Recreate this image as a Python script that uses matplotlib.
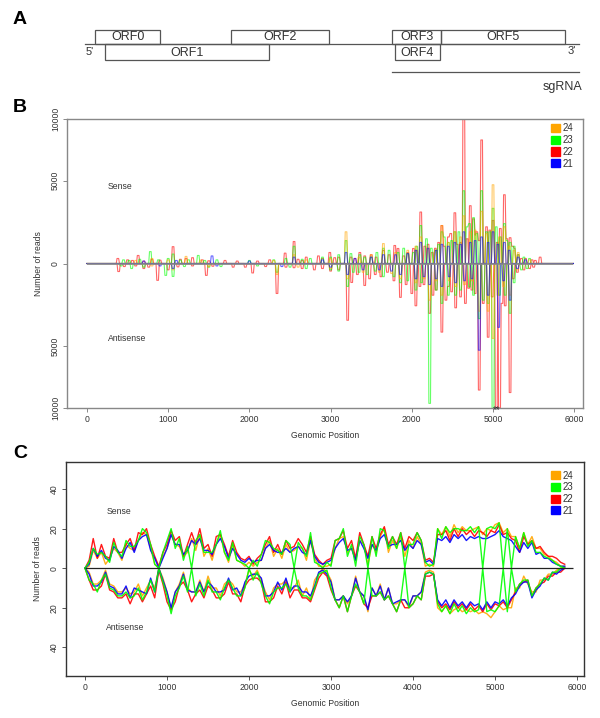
import numpy as np
import matplotlib
matplotlib.use("Agg")
import matplotlib.pyplot as plt
from matplotlib.patches import Rectangle, Patch
from matplotlib.ticker import FixedLocator
import matplotlib.transforms as mtransforms

plt.rcParams['font.family'] = ['Liberation Sans', 'DejaVu Sans']

# ---------------- Panel A: genome map ----------------
orf_names = ["ORF0", "ORF1", "ORF2", "ORF3", "ORF4", "ORF5"]
orf_starts = [100, 222, 1770, 3756, 3793, 4360]
orf_ends = [900, 2241, 2980, 4360, 4347, 5887]
orf_rows = ["top", "bottom", "top", "top", "bottom", "top"]
genome_start, genome_end = -20, 6060
sgrna_start, sgrna_end = 3756, 6060

# ---------------- Shared ----------------
read_lengths = ["24", "23", "22", "21"]
length_colors = ["#FFA500", "#00FF00", "#FF0000", "#0000FF"]

# ---------------- Panel B: siRNA reads per position (position, reads) ----------------
b_sense_24 = [(600,80),(800,150),(1000,100),(1215,230),(1400,90),(2300,80),(2553,300),(2700,100),(3000,150),
              (3190,1500),(3350,200),(3500,300),(3650,840),(3800,400),(3950,500),(4050,700),(4113,1200),(4200,600),
              (4290,500),(4368,1880),(4450,900),(4532,1500),(4600,1200),(4635,2500),(4720,1500),(4780,1600),
              (4864,2800),(4920,1400),(5004,4680),(5080,1200),(5135,1800),(5200,700),(5260,500),(5312,400),(5450,100)]
b_anti_24 = [(800,60),(1063,200),(1500,80),(2335,400),(2600,100),(3000,150),(3206,600),(3400,300),(3600,300),
             (3750,350),(3863,600),(4052,800),(4150,600),(4224,1800),(4300,700),(4368,1500),(4460,700),(4544,1000),
             (4650,900),(4740,700),(4828,2500),(4940,2500),(5000,4400),(5060,1500),(5130,1000),(5209,1500),(5300,200)]
b_sense_23 = [(450,100),(520,80),(650,120),(776,440),(880,100),(1000,150),(1063,330),(1150,90),(1250,100),
              (1370,270),(1450,80),(1600,100),(2000,80),(2300,100),(2450,150),(2553,700),(2650,120),(2750,150),
              (2900,200),(3000,200),(3100,300),(3186,1000),(3250,350),(3362,300),(3420,200),(3500,200),(3570,400),
              (3650,600),(3720,500),(3834,400),(3900,600),(3950,350),(4018,400),(4060,700),(4109,1880),(4183,1100),
              (4240,600),(4290,500),(4330,800),(4368,1500),(4400,1200),(4450,900),(4490,1000),(4532,1500),(4580,1500),
              (4635,4240),(4680,1800),(4709,2000),(4758,2380),(4800,1400),(4864,4240),(4920,1500),(4960,1500),
              (5000,3000),(5040,1800),(5086,1200),(5135,2000),(5170,1000),(5209,900),(5260,700),(5312,300),
              (5380,200),(5450,150)]
b_anti_23 = [(420,60),(550,150),(700,100),(969,440),(1063,490),(1200,80),(1500,100),(1650,80),(2100,60),
             (2340,300),(2500,100),(2700,150),(3000,200),(3100,250),(3206,1000),(3280,300),(3350,300),(3450,400),
             (3550,250),(3650,500),(3780,500),(3863,800),(3950,700),(4052,1200),(4120,800),(4224,9600),(4300,1200),
             (4368,2000),(4450,1500),(4544,1500),(4600,1200),(4709,1030),(4760,1500),(4828,3000),(4880,1800),
             (4943,2000),(5004,12000),(5080,1500),(5148,1500),(5209,2640),(5260,800),(5350,200),(5420,150)]
b_sense_22 = [(380,150),(500,100),(560,80),(630,270),(700,60),(800,120),(900,90),(1063,680),(1150,120),
              (1215,150),(1302,180),(1420,100),(1500,70),(1700,80),(1850,60),(2100,60),(2250,100),(2438,370),
              (2553,950),(2600,120),(2650,80),(2700,200),(2850,250),(2900,150),(2993,400),(3050,180),(3100,200),
              (3250,200),(3300,150),(3362,400),(3420,250),(3500,300),(3560,200),(3650,500),(3720,300),(3790,740),
              (3834,590),(3900,250),(3950,400),(4018,590),(4060,500),(4113,2750),(4160,700),(4200,800),(4250,400),
              (4290,600),(4330,900),(4368,1880),(4400,700),(4450,1200),(4480,1400),(4532,2700),(4560,800),
              (4600,900),(4635,12000),(4680,1100),(4717,3180),(4758,2300),(4780,1300),(4800,1500),(4830,1000),
              (4864,8220),(4920,1800),(4960,1600),(5000,2200),(5050,900),(5086,1700),(5135,3950),(5170,1100),
              (5209,1160),(5240,700),(5260,600),(5312,300),(5350,150),(5400,150),(5480,100),(5520,80),(5578,200)]
b_anti_22 = [(386,270),(460,80),(600,60),(700,150),(760,100),(870,680),(1000,200),(1120,90),(1300,60),
             (1474,440),(1550,70),(1800,100),(1946,100),(2036,330),(2200,80),(2335,1400),(2450,100),(2550,120),
             (2650,150),(2800,200),(2900,150),(3000,250),(3100,200),(3206,3110),(3260,790),(3330,400),(3424,950),
             (3480,600),(3550,400),(3620,500),(3700,300),(3780,700),(3863,1630),(3930,900),(3998,1400),(4052,2150),
             (4100,1000),(4150,900),(4224,2640),(4260,1500),(4300,1200),(4368,3940),(4420,1800),(4450,1000),
             (4490,1300),(4544,2280),(4600,1600),(4655,2000),(4700,1100),(4740,1200),(4780,1400),(4828,8470),
             (4880,2000),(4943,4310),(4990,1600),(5037,12000),(5078,12000),(5110,2000),(5148,2150),(5209,8680),
             (5250,600),(5300,300),(5380,200),(5450,150),(5500,100)]
b_sense_21 = [(700,60),(1100,80),(1544,250),(2000,60),(2553,200),(2900,100),(3186,400),(3300,150),(3500,200),
              (3650,300),(3800,300),(3950,350),(4050,500),(4113,900),(4200,600),(4300,500),(4368,800),(4450,700),
              (4532,900),(4600,800),(4635,1500),(4720,900),(4780,1000),(4864,1200),(4940,900),(5004,1500),
              (5060,800),(5135,900),(5200,500),(5312,200),(5400,100)]
b_anti_21 = [(900,60),(1063,150),(1600,60),(2400,80),(3000,100),(3206,400),(3400,200),(3600,200),(3750,250),
             (3863,400),(4052,600),(4150,500),(4224,900),(4300,600),(4368,1000),(4460,500),(4544,800),(4650,700),
             (4740,600),(4828,5280),(4940,1500),(5066,3600),(5130,700),(5209,1800),(5300,150)]
b_track_end = 5990
b_xticklabels = ["0", "1000", "2000", "3000", "2000", "5000", "6000"]
b_xticks = [0, 1000, 2000, 3000, 4000, 5000, 6000]
b_yticks = [-10000, -5000, 0, 5000, 10000]
b_yticklabels = ["10000", "5000", "0", "5000", "10000"]

# ---------------- Panel C: normalised coverage, 50-nt bins ----------------
c_bin = 50
c_sense_24 = [0,1,9,5,8,2,5,10,8,4, 12,10,9,14,18,17,10,2,0,6, 10,17,12,11,6,8,15,9,17,6,
              10,4,12,17,8,3,12,4,3,1, 3,1,3,4,10,14,6,10,5,12, 8,9,11,10,4,14,5,1,1,1,
              2,10,15,16,8,10,4,14,12,2, 12,8,16,20,8,14,10,16,6,14, 10,16,12,1,2,1,20,17,21,16,
              22,18,21,19,19,20,21,17,20,19, 22,23,18,20,16,16,10,18,12,16, 10,10,7,6,4,3,1,1]
c_sense_23 = [0,3,10,7,8,6,3,13,8,6, 14,11,11,14,20,18,12,2,0,8, 14,20,10,15,4,11,0,14,17,8,
              8,8,12,19,8,4,13,4,3,2, 0,4,1,7,14,13,10,9,7,14, 12,0,13,10,6,18,3,2,0,3,
              1,14,15,20,6,12,1,16,12,0, 16,6,20,19,10,16,10,18,0,12, 12,18,14,3,1,2,20,15,21,18,
              20,20,19,19,21,18,21,0,20,21, 20,23,0,20,0,16,10,18,11,14, 8,8,6,5,4,2,1,0]
c_sense_22 = [0,4,15,5,12,6,5,15,8,8, 12,15,9,18,17,20,12,6,1,8, 12,19,14,16,6,12,18,12,20,10,
              12,6,16,17,12,6,14,8,5,4, 6,2,5,7,12,16,8,12,7,14, 10,11,15,12,8,16,7,4,2,4,
              5,14,15,19,10,14,5,18,12,6, 16,10,17,21,12,16,12,18,10,16, 14,18,14,4,5,3,17,17,19,14,
              20,16,20,17,19,16,19,18,16,19, 18,22,17,18,15,14,8,16,12,14, 10,11,8,6,6,5,3,2]
c_sense_21 = [0,2,10,6,9,5,4,11,9,5, 10,13,8,14,16,17,9,5,0,5, 10,17,12,12,7,9,14,12,15,9,
              9,7,12,15,11,5,10,7,4,3, 5,3,4,4,10,12,9,8,8,10, 8,10,11,8,7,14,6,3,2,3,
              4,10,13,15,9,10,4,14,10,5, 12,9,15,17,11,12,12,14,9,12, 10,14,12,3,4,2,15,14,16,13,
              17,15,17,14,16,15,16,15,15,16, 17,19,16,15,14,11,8,13,10,13, 7,8,5,5,3,2,1,1]
c_anti_24 = [0,2,8,8,6,1,8,9,12,12, 10,13,12,8,14,10,6,10,0,5, 12,21,12,8,2,10,12,12,6,12,
             4,10,10,14,8,6,8,12,12,8, 1,4,1,6,12,16,10,8,8,6, 10,10,6,14,10,16,6,3,0,2,
             6,16,16,14,18,14,4,12,14,22, 10,14,8,16,10,18,18,16,16,20, 14,14,12,2,1,2,20,22,19,23,
             21,20,22,21,22,21,23,22,23,25, 22,19,21,20,20,10,10,4,8,12, 12,6,6,3,3,1,0,0]
c_anti_23 = [0,6,8,12,6,3,10,11,14,14, 12,15,14,10,16,12,6,12,0,7, 14,23,14,10,4,12,0,14,8,14,
             6,12,12,16,10,6,10,14,14,10, 0,6,2,8,14,18,12,10,10,8, 12,0,10,14,14,16,10,3,2,1,
             10,16,20,14,22,14,8,12,18,0, 14,14,12,16,14,18,22,16,0,20, 18,14,16,3,2,3,18,22,19,23,
             18,22,19,23,20,22,21,0,22,21, 22,19,0,22,0,12,8,6,6,14, 10,8,5,6,2,2,0,0]
c_anti_22 = [0,6,11,11,9,3,11,12,15,15, 13,18,13,13,17,13,9,15,1,8, 17,21,17,9,7,11,17,13,11,15,
             9,11,15,15,13,7,13,13,17,9, 6,5,5,7,17,17,15,9,13,7, 15,11,11,15,15,17,11,5,2,4,
             11,16,20,14,22,14,9,12,18,20, 14,14,12,16,14,18,22,16,20,20, 18,14,16,4,4,3,17,20,18,21,
             17,20,18,21,18,21,19,22,18,21, 18,19,17,20,16,12,8,7,6,14, 10,8,7,4,4,2,2,0]
c_anti_21 = [0,3,9,9,7,2,9,10,13,13, 9,15,10,11,12,13,5,12,0,6, 12,20,12,9,3,11,12,12,7,12,
             7,9,12,12,11,5,11,10,14,7, 4,3,3,5,14,14,12,7,11,5, 12,9,9,12,12,14,9,2,1,3,
             7,16,16,14,17,14,5,12,14,21, 10,14,9,16,10,18,17,16,16,19, 14,14,12,3,2,3,16,19,16,20,
             16,19,17,20,17,19,18,21,17,20, 17,18,16,19,15,13,9,7,7,15, 11,9,5,6,2,3,1,0]
c_track_end = 5950
c_xticks = [0, 1000, 2000, 3000, 4000, 5000, 6000]
c_yticks = [-40, -20, 0, 20, 40]
c_yticklabels = ["40", "20", "0", "20", "40"]

# ---------------- helpers ----------------
B_STEP = 10
b_grid = np.arange(0, b_track_end + B_STEP, B_STEP)


def spike_track(spikes):
    y = np.zeros(b_grid.size)
    for p, v in spikes:
        i = int(round(p / B_STEP))
        lo, hi = max(i - 1, 0), min(i + 2, y.size)
        y[lo:hi] = np.maximum(y[lo:hi], v)
    return y


def fwd(y):
    y = np.asarray(y, dtype=float)
    return np.sign(y) * np.abs(y) ** 0.8


def inv(y):
    y = np.asarray(y, dtype=float)
    return np.sign(y) * np.abs(y) ** 1.25


W, H = 600, 718
fig = plt.figure(figsize=(W / 100, H / 100), dpi=100)


def fig_axes(left, top, right, bottom):
    return fig.add_axes([left / W, 1 - bottom / H, (right - left) / W, (bottom - top) / H])


TICK_FS = 6.2
TXT = "#333333"

# ---------------- Panel A ----------------
axA = fig_axes(67, 20, 583, 100)
axA.set_xlim(-246, 6108)
axA.set_ylim(100, 20)
axA.axis("off")
line_y, top_y, bot_y = 44, 30, 60
axA.plot([genome_start, genome_end], [line_y, line_y], color="#555555", lw=0.9)
for name, s, e, row in zip(orf_names, orf_starts, orf_ends, orf_rows):
    if row == "top":
        y0, h = top_y, line_y - top_y
    else:
        y0, h = line_y, bot_y - line_y
    axA.add_patch(Rectangle((s, y0), e - s, h, fill=False, edgecolor="#555555", lw=0.9))
    axA.text((s + e) / 2, y0 + h / 2 + 0.5, name, ha="center", va="center", fontsize=9, color=TXT)
axA.text(genome_start + 50, 52, "5'", ha="center", va="center", fontsize=8, color=TXT)
axA.text(genome_end - 90, 51, "3'", ha="center", va="center", fontsize=8, color=TXT)
axA.plot([sgrna_start, sgrna_end], [72, 72], color="#555555", lw=0.9)
axA.text(sgrna_end - 200, 87, "sgRNA", ha="center", va="center", fontsize=9, color=TXT)

# ---------------- Panel B ----------------
axB = fig_axes(67, 119, 583, 408)
axB.set_yscale("function", functions=(fwd, inv))
b_series = {
    "22": (b_sense_22, b_anti_22),
    "23": (b_sense_23, b_anti_23),
    "24": (b_sense_24, b_anti_24),
    "21": (b_sense_21, b_anti_21),
}
for lab in ["22", "23", "24", "21"]:
    col = length_colors[read_lengths.index(lab)]
    s, a = b_series[lab]
    axB.plot(b_grid, spike_track(s), color=col, lw=0.8, alpha=0.6)
    axB.plot(b_grid, -spike_track(a), color=col, lw=0.8, alpha=0.6)
axB.hlines(0, 0, b_track_end, color="#888888", lw=1.2, zorder=5)
axB.set_xlim(-246, 6108)
axB.set_ylim(-10000, 10000)
axB.yaxis.set_major_locator(FixedLocator(b_yticks))
axB.set_yticklabels(b_yticklabels, rotation=90, va="center")
axB.yaxis.set_minor_locator(FixedLocator([]))
axB.set_xticks(b_xticks)
axB.set_xticklabels(b_xticklabels)
for sp in axB.spines.values():
    sp.set_color("#888888")
    sp.set_linewidth(1.0)
axB.tick_params(direction="out", length=3, width=0.7, colors="#888888", labelcolor=TXT,
                labelsize=TICK_FS, pad=2)
axB.text(260, 4530, "Sense", fontsize=6.2, va="center", ha="left", color=TXT)
axB.text(260, -4390, "Antisense", fontsize=6.2, va="center", ha="left", color=TXT)
trB = mtransforms.blended_transform_factory(axB.transData, axB.transAxes)
axB.text(5040, -0.008, "**", transform=trB, ha="center", va="center", fontsize=7, color=TXT)
axB.set_xlabel("Genomic Position", fontsize=6.2, color=TXT, labelpad=5)
axB.set_ylabel("Number of reads", fontsize=6.2, color=TXT, labelpad=6)

handles = [Patch(facecolor=c, edgecolor=c) for c in length_colors]
legB = axB.legend(handles, read_lengths, loc="upper left", bbox_to_anchor=(0.938, 0.985), frameon=False,
                  handlelength=0.9, handleheight=0.9, handletextpad=0.25, labelspacing=0.18,
                  fontsize=7, borderpad=0, borderaxespad=0)
for t in legB.get_texts():
    t.set_color(TXT)

# ---------------- Panel C ----------------
axC = fig_axes(66, 462, 584, 676)
c_pos = np.arange(len(c_sense_24)) * c_bin
c_sense = {"24": c_sense_24, "23": c_sense_23, "22": c_sense_22, "21": c_sense_21}
c_anti = {"24": c_anti_24, "23": c_anti_23, "22": c_anti_22, "21": c_anti_21}
for lab in ["24", "22", "21", "23"]:
    col = length_colors[read_lengths.index(lab)]
    axC.plot(c_pos, c_sense[lab], color=col, lw=1.0, alpha=0.9)
    axC.plot(c_pos, -np.asarray(c_anti[lab]), color=col, lw=1.0, alpha=0.9)
axC.hlines(0, 0, c_track_end, color="#222222", lw=0.9, zorder=5)
axC.set_xlim(-232, 6085)
axC.set_ylim(-54.5, 53.7)
axC.set_yticks(c_yticks)
axC.set_yticklabels(c_yticklabels, rotation=90, va="center")
axC.set_xticks(c_xticks)
for sp in axC.spines.values():
    sp.set_color("#333333")
    sp.set_linewidth(1.0)
axC.tick_params(direction="out", length=3, width=0.7, colors="#555555", labelcolor=TXT,
                labelsize=TICK_FS, pad=2)
axC.text(260, 28.5, "Sense", fontsize=6.2, va="center", ha="left", color=TXT)
axC.text(260, -30, "Antisense", fontsize=6.2, va="center", ha="left", color=TXT)
axC.set_xlabel("Genomic Position", fontsize=6.2, color=TXT, labelpad=5)
axC.set_ylabel("Number of reads", fontsize=6.2, color=TXT, labelpad=6)
legC = axC.legend(handles, read_lengths, loc="upper left", bbox_to_anchor=(0.937, 0.96), frameon=False,
                  handlelength=0.9, handleheight=0.9, handletextpad=0.25, labelspacing=0.18,
                  fontsize=7, borderpad=0, borderaxespad=0)
for t in legC.get_texts():
    t.set_color(TXT)

# ---------------- Panel letters ----------------
for letter, ypix in [("A", 20), ("B", 108), ("C", 453)]:
    fig.text(13 / W, 1 - ypix / H, letter, fontsize=14, fontweight="bold", va="center", ha="left")

fig.savefig("out.png", dpi=100)
